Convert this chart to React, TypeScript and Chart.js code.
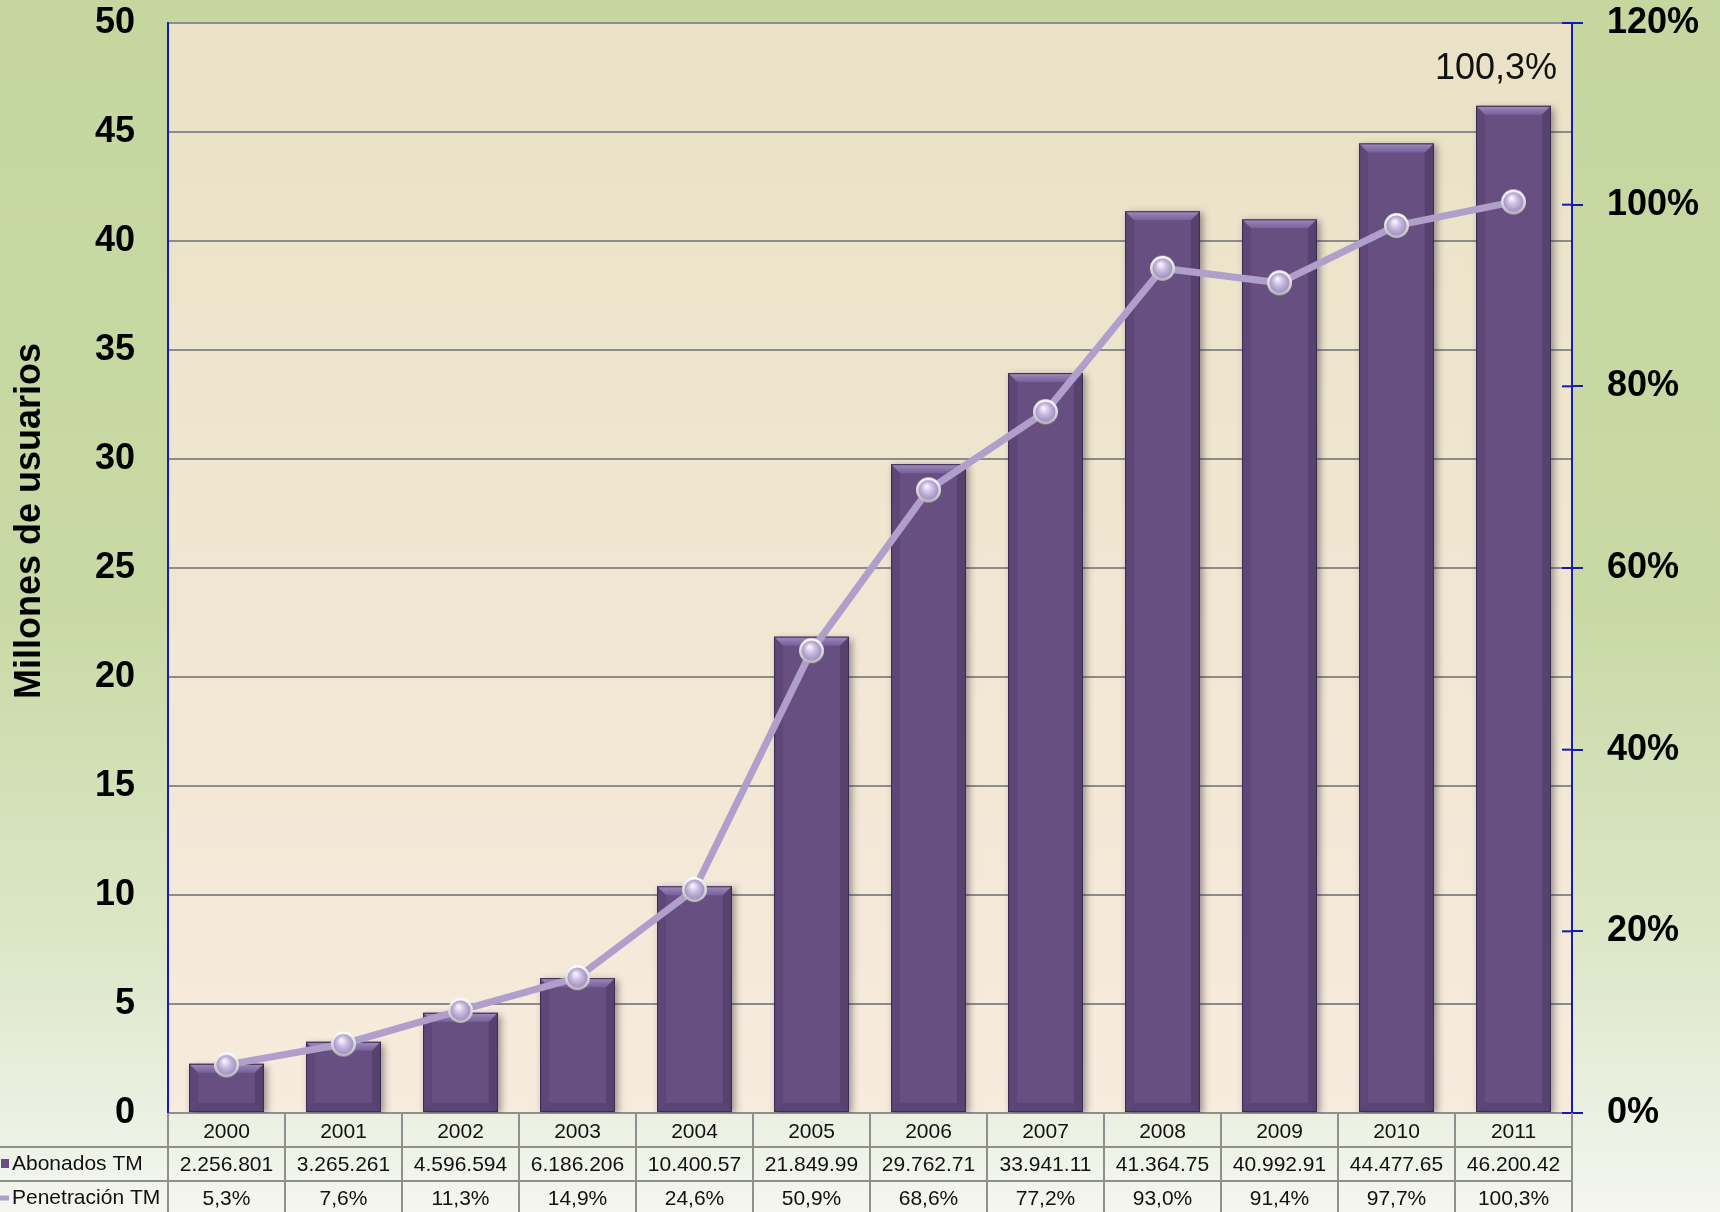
import { useEffect, useRef } from "react";
import { Chart, registerables } from "chart.js";

Chart.register(...registerables);

const years = ["2000", "2001", "2002", "2003", "2004", "2005", "2006", "2007", "2008", "2009", "2010", "2011"];
const abonadosMillones = [2.256801, 3.265261, 4.596594, 6.186206, 10.40057, 21.84999, 29.76271, 33.94111, 41.36475, 40.99291, 44.47765, 46.20042];
const abonadosLabels = ["2.256.801", "3.265.261", "4.596.594", "6.186.206", "10.400.57", "21.849.99", "29.762.71", "33.941.11", "41.364.75", "40.992.91", "44.477.65", "46.200.42"];
const penetracion = [5.3, 7.6, 11.3, 14.9, 24.6, 50.9, 68.6, 77.2, 93.0, 91.4, 97.7, 100.3];
const penetracionLabels = ["5,3%", "7,6%", "11,3%", "14,9%", "24,6%", "50,9%", "68,6%", "77,2%", "93,0%", "91,4%", "97,7%", "100,3%"];
const seriesNames = ["Abonados TM", "Penetración TM"];
const yTitle = "Millones de usuarios";
const lastLabel = "100,3%";

const FONT = '"Liberation Sans", Arial, sans-serif';

function makeSphere(): HTMLCanvasElement {
  const c = document.createElement("canvas");
  c.width = 27;
  c.height = 27;
  const g = c.getContext("2d")!;
  g.beginPath();
  g.arc(13.5, 13.5, 12.5, 0, Math.PI * 2);
  const ring = g.createLinearGradient(0, 1, 0, 26);
  ring.addColorStop(0, "#ffffff");
  ring.addColorStop(1, "#b8b8b8");
  g.fillStyle = ring;
  g.fill();
  g.beginPath();
  g.arc(13.5, 13.5, 10, 0, Math.PI * 2);
  const rg = g.createRadialGradient(11.5, 9.5, 1, 13.5, 13.5, 11);
  rg.addColorStop(0, "#f6f2fb");
  rg.addColorStop(0.45, "#c8b9e0");
  rg.addColorStop(1, "#9c89bd");
  g.fillStyle = rg;
  g.fill();
  return c;
}

const decorPlugin = {
  id: "decor",
  beforeDraw(chart: any) {
    const { ctx, chartArea, width, height } = chart;
    ctx.save();
    const bg = ctx.createLinearGradient(0, 0, 0, height);
    bg.addColorStop(0, "#c5d79f");
    bg.addColorStop(0.5, "#c8d9a5");
    bg.addColorStop(0.78, "#dce7c8");
    bg.addColorStop(1, "#f4f6f0");
    ctx.fillStyle = bg;
    ctx.fillRect(0, 0, width, height);
    const pa = ctx.createLinearGradient(0, chartArea.top, 0, chartArea.bottom);
    pa.addColorStop(0, "#e9e2c6");
    pa.addColorStop(1, "#f7ebdd");
    ctx.fillStyle = pa;
    ctx.fillRect(chartArea.left, chartArea.top, chartArea.right - chartArea.left, chartArea.bottom - chartArea.top);
    ctx.restore();
  },
  beforeDatasetDraw(chart: any, args: any) {
    if (args.index !== 0) return;
    const ctx = chart.ctx;
    ctx.save();
    ctx.shadowColor = "rgba(40,30,50,0.45)";
    ctx.shadowBlur = 7;
    ctx.shadowOffsetX = 3;
    ctx.shadowOffsetY = 2;
  },
  afterDatasetDraw(chart: any, args: any) {
    if (args.index !== 0) return;
    const ctx = chart.ctx;
    ctx.restore();
    ctx.save();
    args.meta.data.forEach((bar: any) => {
      const { x, y, base, width } = bar.getProps(["x", "y", "base", "width"], true);
      const l = x - width / 2;
      const r = x + width / 2;
      const b = 9;
      const tg = ctx.createLinearGradient(0, y, 0, y + b);
      tg.addColorStop(0, "#a08cbd");
      tg.addColorStop(1, "#76609a");
      ctx.fillStyle = tg;
      ctx.beginPath();
      ctx.moveTo(l, y);
      ctx.lineTo(r, y);
      ctx.lineTo(r - b, y + b);
      ctx.lineTo(l + b, y + b);
      ctx.closePath();
      ctx.fill();
      ctx.fillStyle = "rgba(45,30,65,0.28)";
      ctx.beginPath();
      ctx.moveTo(r, y);
      ctx.lineTo(r, base);
      ctx.lineTo(r - b, base - b);
      ctx.lineTo(r - b, y + b);
      ctx.closePath();
      ctx.fill();
      ctx.fillStyle = "rgba(45,30,65,0.14)";
      ctx.beginPath();
      ctx.moveTo(l, y);
      ctx.lineTo(l + b, y + b);
      ctx.lineTo(l + b, base - b);
      ctx.lineTo(l, base);
      ctx.closePath();
      ctx.fill();
      ctx.fillStyle = "rgba(45,30,65,0.22)";
      ctx.beginPath();
      ctx.moveTo(l, base);
      ctx.lineTo(l + b, base - b);
      ctx.lineTo(r - b, base - b);
      ctx.lineTo(r, base);
      ctx.closePath();
      ctx.fill();
      ctx.strokeStyle = "#3b2c50";
      ctx.lineWidth = 1;
      ctx.strokeRect(l + 0.5, y + 0.5, width - 1, base - y - 1);
    });
    ctx.restore();
  },
  afterDraw(chart: any) {
    const { ctx, chartArea, height, scales } = chart;
    const xs = scales.x;
    const y1 = scales.y1;
    ctx.save();
    ctx.strokeStyle = "#1a1aa8";
    ctx.lineWidth = 2;
    y1.ticks.forEach((t: any) => {
      const yy = y1.getPixelForValue(t.value);
      ctx.beginPath();
      ctx.moveTo(chartArea.right - 10, yy);
      ctx.lineTo(chartArea.right, yy);
      ctx.stroke();
    });
    const top = chartArea.bottom;
    const rowH = 34;
    ctx.strokeStyle = "#8f8f8f";
    ctx.lineWidth = 2;
    [top + rowH, top + 2 * rowH].forEach((yy) => {
      ctx.beginPath();
      ctx.moveTo(0, yy);
      ctx.lineTo(chartArea.right, yy);
      ctx.stroke();
    });
    const half = (xs.getPixelForValue(1) - xs.getPixelForValue(0)) / 2;
    for (let i = 0; i <= years.length; i++) {
      const xb = i < years.length ? xs.getPixelForValue(i) - half : xs.getPixelForValue(years.length - 1) + half;
      ctx.beginPath();
      ctx.moveTo(xb, top);
      ctx.lineTo(xb, height);
      ctx.stroke();
    }
    ctx.fillStyle = "#111";
    ctx.font = `21px ${FONT}`;
    ctx.textAlign = "center";
    ctx.textBaseline = "middle";
    years.forEach((_, i) => {
      const cx = xs.getPixelForValue(i);
      ctx.fillText(abonadosLabels[i], cx, top + rowH * 1.5 + 1);
      ctx.fillText(penetracionLabels[i], cx, top + rowH * 2.5 + 1);
    });
    ctx.textAlign = "left";
    ctx.fillText(seriesNames[0], 12, top + rowH * 1.5);
    ctx.fillText(seriesNames[1], 12, top + rowH * 2.5);
    ctx.fillStyle = "#674f82";
    ctx.fillRect(1, top + rowH * 1.5 - 5, 8, 9);
    ctx.strokeStyle = "#b09fcb";
    ctx.lineWidth = 5;
    ctx.beginPath();
    ctx.moveTo(0, top + rowH * 2.5);
    ctx.lineTo(9, top + rowH * 2.5);
    ctx.stroke();
    ctx.save();
    ctx.translate(30, (chartArea.top + chartArea.bottom) / 2 - 47);
    ctx.rotate(-Math.PI / 2);
    ctx.font = `bold 36px ${FONT}`;
    ctx.fillStyle = "#000";
    ctx.textAlign = "center";
    ctx.textBaseline = "middle";
    ctx.fillText(yTitle, 0, 0);
    ctx.restore();
    ctx.font = `36px ${FONT}`;
    ctx.fillStyle = "#111";
    ctx.textAlign = "right";
    ctx.textBaseline = "middle";
    ctx.fillText(lastLabel, chartArea.right - 15, chartArea.top + 46);
    ctx.restore();
  },
};

export default function App() {
  const ref = useRef<HTMLCanvasElement>(null);
  useEffect(() => {
    if (!ref.current) return;
    const sphere = makeSphere();
    const chart = new Chart(ref.current, {
      type: "bar",
      data: {
        labels: years,
        datasets: [
          {
            type: "bar",
            label: seriesNames[0],
            data: abonadosMillones,
            backgroundColor: "#674f82",
            borderWidth: 0,
            barPercentage: 0.64,
            categoryPercentage: 1,
            yAxisID: "y",
            order: 1,
          } as any,
          {
            type: "line",
            label: seriesNames[1],
            data: penetracion,
            borderColor: "#b09fcb",
            borderWidth: 7,
            pointStyle: sphere,
            pointRadius: 13,
            tension: 0,
            yAxisID: "y1",
            order: 0,
          } as any,
        ],
      },
      options: {
        animation: false,
        responsive: false,
        maintainAspectRatio: false,
        layout: { padding: { top: 23, left: 0, right: 0, bottom: 0 } },
        plugins: { legend: { display: false }, tooltip: { enabled: false } },
        scales: {
          x: {
            grid: { display: false, drawTicks: false },
            border: { display: true, color: "#8f8f8f", width: 2 },
            ticks: { color: "#111", font: { family: FONT, size: 21 }, padding: 7, maxRotation: 0 },
            afterFit: (s: any) => {
              s.height = 99;
              s.paddingLeft = 0;
              s.paddingRight = 0;
            },
          },
          y: {
            position: "left",
            min: 0,
            max: 50,
            ticks: { stepSize: 5, color: "#000", font: { family: FONT, size: 36, weight: "bold" }, padding: 33 },
            grid: { color: "#8c8c8c", lineWidth: 2, drawTicks: false },
            border: { color: "#1a1ab8", width: 2 },
            afterFit: (s: any) => {
              s.width = 168;
              s.paddingTop = 0;
              s.paddingBottom = 0;
            },
          },
          y1: {
            position: "right",
            min: 0,
            max: 120,
            ticks: {
              stepSize: 20,
              color: "#000",
              font: { family: FONT, size: 36, weight: "bold" },
              padding: 24,
              callback: (v: any) => v + "%",
            },
            grid: { drawOnChartArea: false, color: "#1a1aa8", lineWidth: 2, tickLength: 11 },
            border: { color: "#1a1ab8", width: 2 },
            afterFit: (s: any) => {
              s.width = 148;
              s.paddingTop = 0;
              s.paddingBottom = 0;
            },
          },
        },
      } as any,
      plugins: [decorPlugin],
    });
    return () => chart.destroy();
  }, []);
  return (
    <div style={{ position: "absolute", left: 0, top: 0, width: 1720, height: 1212 }}>
      <canvas ref={ref} width={1720} height={1212} style={{ display: "block" }} />
    </div>
  );
}
